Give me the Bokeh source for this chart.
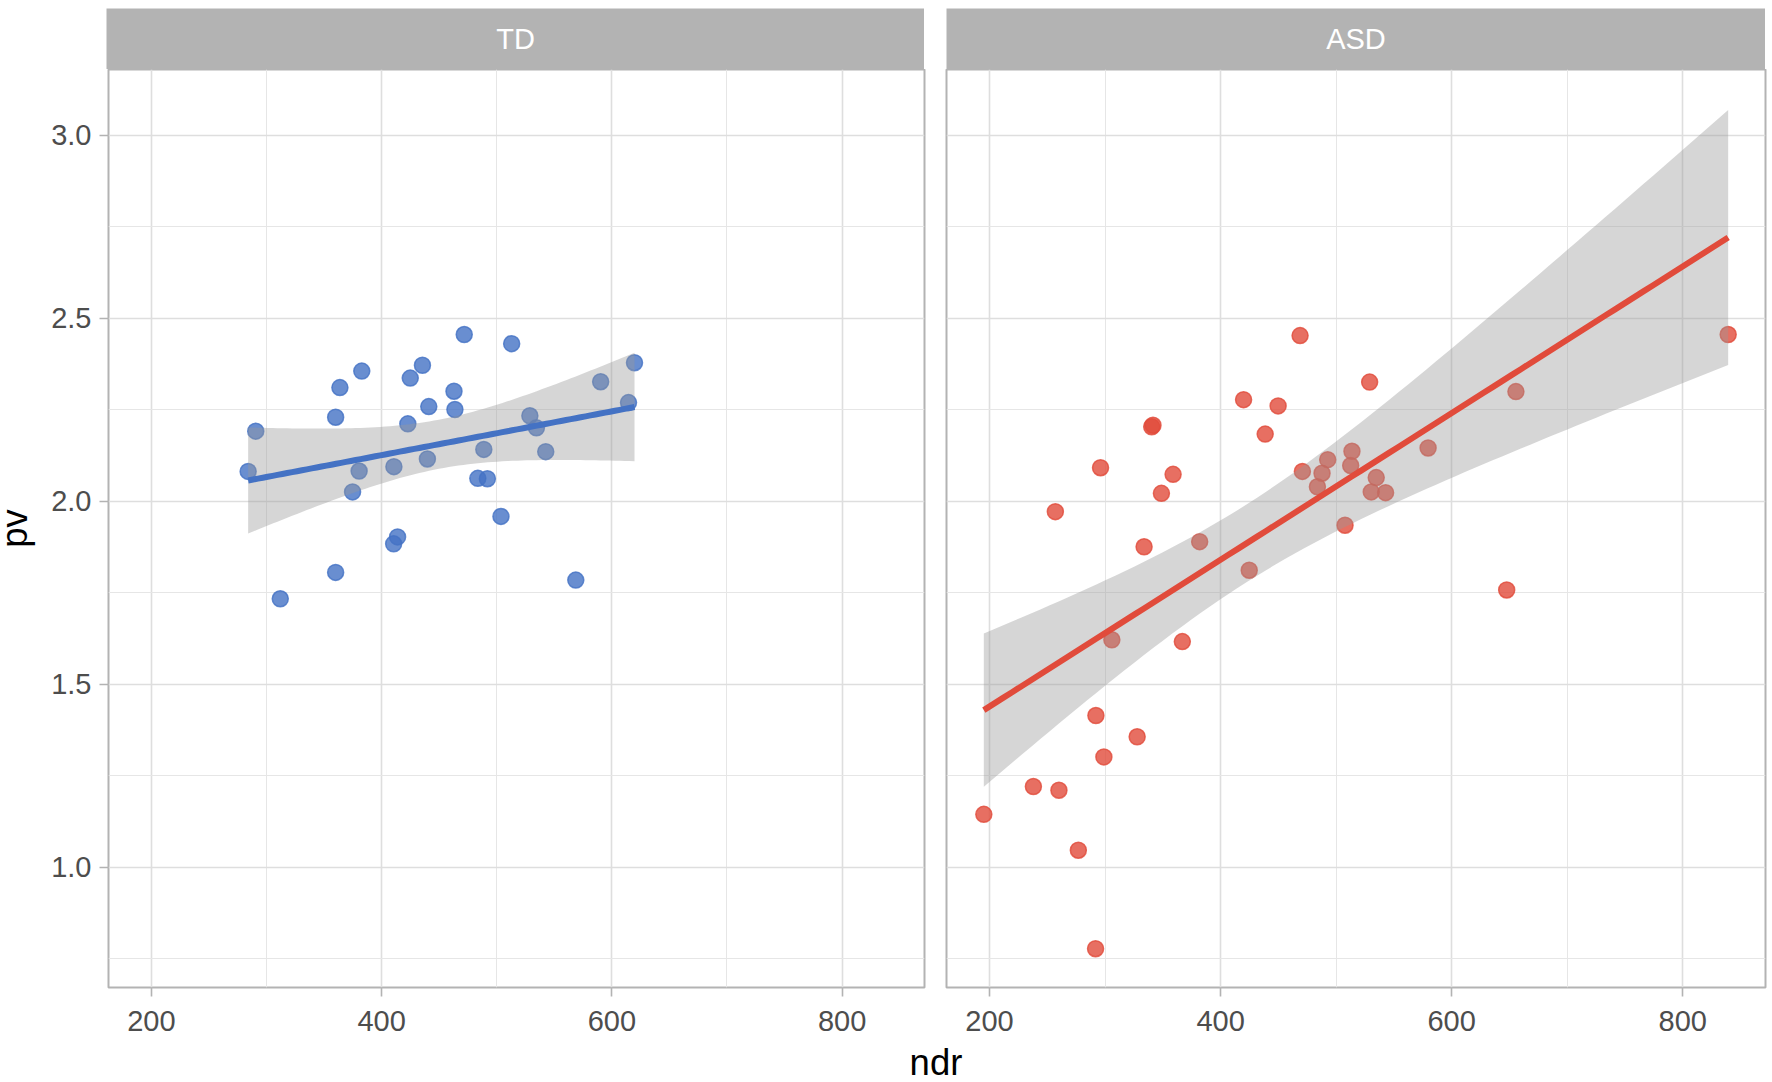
import math
import numpy as np
from bokeh.plotting import figure
from bokeh.layouts import row, column
from bokeh.models import Range1d, FixedTicker, Spacer, ColumnDataSource
from bokeh.core.properties import value
from bokeh.embed import file_html
from bokeh.resources import INLINE

# ---------------- data ----------------
groups = ["TD", "ASD"]

td_ndr = [284.1, 290.7, 312.0, 360.1, 360.1, 363.8, 382.8, 380.5, 374.8, 410.7,
          413.9, 410.5, 422.8, 424.9, 435.5, 441.0, 439.8, 462.9, 463.7, 471.8,
          488.8, 483.6, 491.9, 513.0, 503.7, 528.8, 534.5, 542.6, 568.7, 590.3,
          614.5, 619.7]
td_pv = [2.081, 2.191, 1.733, 1.805, 2.229, 2.310, 2.355, 2.082, 2.025, 2.094,
         1.902, 1.883, 2.211, 2.336, 2.371, 2.258, 2.115, 2.300, 2.250, 2.455,
         2.141, 2.062, 2.061, 2.430, 1.958, 2.233, 2.200, 2.135, 1.784, 2.326,
         2.269, 2.378]

asd_ndr = [195.1, 238.0, 260.1, 276.9, 291.8, 292.1, 299.0, 327.8, 305.9, 257.0,
           296.1, 333.8, 340.4, 341.5, 348.8, 358.9, 366.9, 381.9, 424.8, 419.9,
           438.6, 449.8, 468.8, 470.8, 483.8, 487.8, 492.7, 507.7, 512.6, 513.7,
           529.0, 530.4, 534.7, 542.8, 579.6, 647.6, 655.6, 839.3]
asd_pv = [1.144, 1.220, 1.210, 1.046, 0.777, 1.414, 1.301, 1.356, 1.621, 1.971,
          2.091, 1.875, 2.203, 2.207, 2.021, 2.073, 1.616, 1.889, 1.811, 2.277,
          2.183, 2.260, 2.452, 2.081, 2.039, 2.076, 2.113, 1.934, 2.097, 2.136,
          2.325, 2.025, 2.064, 2.023, 2.145, 1.757, 2.299, 2.455]

x_ticks = [200, 400, 600, 800]
x_minor = [300, 500, 700]
y_ticks = [1.0, 1.5, 2.0, 2.5, 3.0]
y_tick_labels = ["1.0", "1.5", "2.0", "2.5", "3.0"]
y_minor = [0.75, 1.25, 1.75, 2.25, 2.75]

colors = {"TD": "#4472C4", "ASD": "#E14B3B"}
FONT = "Liberation Sans"

# ---------------- stats (geom_smooth(method="lm")) ----------------
def t_cdf(t, df):
    xs = np.linspace(0.0, abs(t), 4001)
    c = math.exp(math.lgamma((df + 1) / 2) - math.lgamma(df / 2)) / math.sqrt(df * math.pi)
    pdf = c * (1 + xs ** 2 / df) ** (-(df + 1) / 2)
    area = np.trapezoid(pdf, xs)
    return 0.5 + math.copysign(area, t)

def t_quantile(p, df):
    lo, hi = 0.0, 20.0
    for _ in range(80):
        mid = (lo + hi) / 2
        if t_cdf(mid, df) < p:
            lo = mid
        else:
            hi = mid
    return (lo + hi) / 2

def lm_band(xv, yv, n=80):
    x = np.asarray(xv, float)
    y = np.asarray(yv, float)
    N = len(x)
    xm = x.mean()
    sxx = ((x - xm) ** 2).sum()
    b = ((x - xm) * (y - y.mean())).sum() / sxx
    a = y.mean() - b * xm
    resid = y - (a + b * x)
    s = math.sqrt((resid ** 2).sum() / (N - 2))
    xs = np.linspace(x.min(), x.max(), n)
    fit = a + b * xs
    se = s * np.sqrt(1.0 / N + (xs - xm) ** 2 / sxx)
    tq = t_quantile(0.975, N - 2)
    return xs, fit, fit - tq * se, fit + tq * se

# ---------------- layout constants ----------------
X_RANGE = (162.8, 871.6)
Y_RANGE = (0.671, 3.179)
MARGIN = 8
STRIP_H = 61
FRAME_H = 918
BOTTOM = 58
YLAB_W = 48          # includes the page margin
LEFT_AXIS = 58
F1_W = 818
GAP = 22
F2_W = 819
XLAB_H = 36

def style_panel(p, show_y):
    p.outline_line_color = "#B3B3B3"
    p.outline_line_width = 2
    p.background_fill_color = "white"
    p.border_fill_color = "white"
    for g, tk, mn in ((p.xgrid, x_ticks, x_minor), (p.ygrid, y_ticks, y_minor)):
        g.ticker = FixedTicker(ticks=tk, minor_ticks=mn)
        g.grid_line_color = "#DEDEDE"
        g.grid_line_width = 1.6
        g.minor_grid_line_color = "#E6E6E6"
        g.minor_grid_line_width = 1
    p.xaxis.ticker = FixedTicker(ticks=x_ticks, minor_ticks=[])
    p.yaxis.ticker = FixedTicker(ticks=y_ticks, minor_ticks=[])
    for ax in (p.xaxis[0], p.yaxis[0]):
        ax.axis_line_color = None
        ax.major_tick_line_color = "#B3B3B3"
        ax.major_tick_line_width = 1.6
        ax.major_tick_out = 9
        ax.major_tick_in = 0
        ax.minor_tick_line_color = None
        ax.major_label_text_font = FONT
        ax.major_label_text_font_size = "29px"
        ax.major_label_text_color = "#4D4D4D"
        ax.major_label_standoff = 8
    p.xaxis.major_label_standoff = 14
    p.yaxis.major_label_overrides = {t: l for t, l in zip(y_ticks, y_tick_labels)}
    if not show_y:
        p.yaxis.visible = False


def make_panel(name, xv, yv, width, bl, br, show_y):
    p = figure(width=width, height=FRAME_H + BOTTOM, x_range=Range1d(*X_RANGE),
               y_range=Range1d(*Y_RANGE), output_backend="svg", toolbar_location=None,
               min_border_left=bl, min_border_right=br, min_border_top=0,
               min_border_bottom=BOTTOM)
    style_panel(p, show_y)
    col = colors[name]
    src = ColumnDataSource(dict(x=xv, y=yv))
    p.scatter("x", "y", source=src, size=16, fill_color=col, fill_alpha=0.8,
              line_color=col, line_alpha=0.8, line_width=1.5)
    xs, fit, lo, hi = lm_band(xv, yv)
    band = ColumnDataSource(dict(x=xs, fit=fit, lo=lo, hi=hi))
    p.varea(x="x", y1="lo", y2="hi", source=band, fill_color="#999999", fill_alpha=0.4)
    p.line("x", "fit", source=band, line_color=col, line_width=6)
    return p


def blank(width, height, **kw):
    f = figure(width=width, height=height, x_range=Range1d(0, 1), y_range=Range1d(0, 1),
               output_backend="svg", toolbar_location=None, x_axis_location=None,
               y_axis_location=None, **kw)
    f.grid.visible = False
    f.outline_line_color = None
    return f


def make_strip(name, width):
    s = blank(width, STRIP_H, min_border=0)
    s.background_fill_color = "#B3B3B3"
    s.border_fill_color = "#B3B3B3"
    s.text(x=[0.5], y=[0.5], text=[name], text_align="center", text_baseline="middle",
           text_color="white", text_font=value(FONT), text_font_size="29px")
    return s


p1 = make_panel(groups[0], td_ndr, td_pv, LEFT_AXIS + F1_W + GAP // 2, LEFT_AXIS, GAP // 2, True)
p2 = make_panel(groups[1], asd_ndr, asd_pv, GAP // 2 + F2_W + 2, GAP // 2, 2, False)

# y-axis title
ylab = blank(YLAB_W, FRAME_H + BOTTOM, min_border_left=0, min_border_right=0,
             min_border_top=0, min_border_bottom=BOTTOM)
ylab.text(x=[0.296], y=[0.5], text=["pv"], angle=math.pi / 2, text_align="center",
          text_baseline="middle", text_color="black", text_font=value(FONT),
          text_font_size="36.5px")

# x-axis title (centred under both panels)
total_w = YLAB_W + LEFT_AXIS + F1_W + GAP + F2_W + 2
xlab = blank(total_w, XLAB_H, min_border_left=YLAB_W + LEFT_AXIS, min_border_right=2,
             min_border_top=0, min_border_bottom=0)
xlab.text(x=[0.5], y=[0.528], text=["ndr"], text_align="center", text_baseline="middle",
          text_color="black", text_font=value(FONT), text_font_size="36.5px")

strip_row = row(Spacer(width=YLAB_W + LEFT_AXIS, height=STRIP_H),
                make_strip(groups[0], F1_W),
                Spacer(width=GAP, height=STRIP_H),
                make_strip(groups[1], F2_W))
panel_row = row(ylab, p1, p2)
layout = column(Spacer(width=total_w, height=MARGIN), strip_row, panel_row, xlab)

open("out.html", "w").write(file_html(layout, INLINE))
